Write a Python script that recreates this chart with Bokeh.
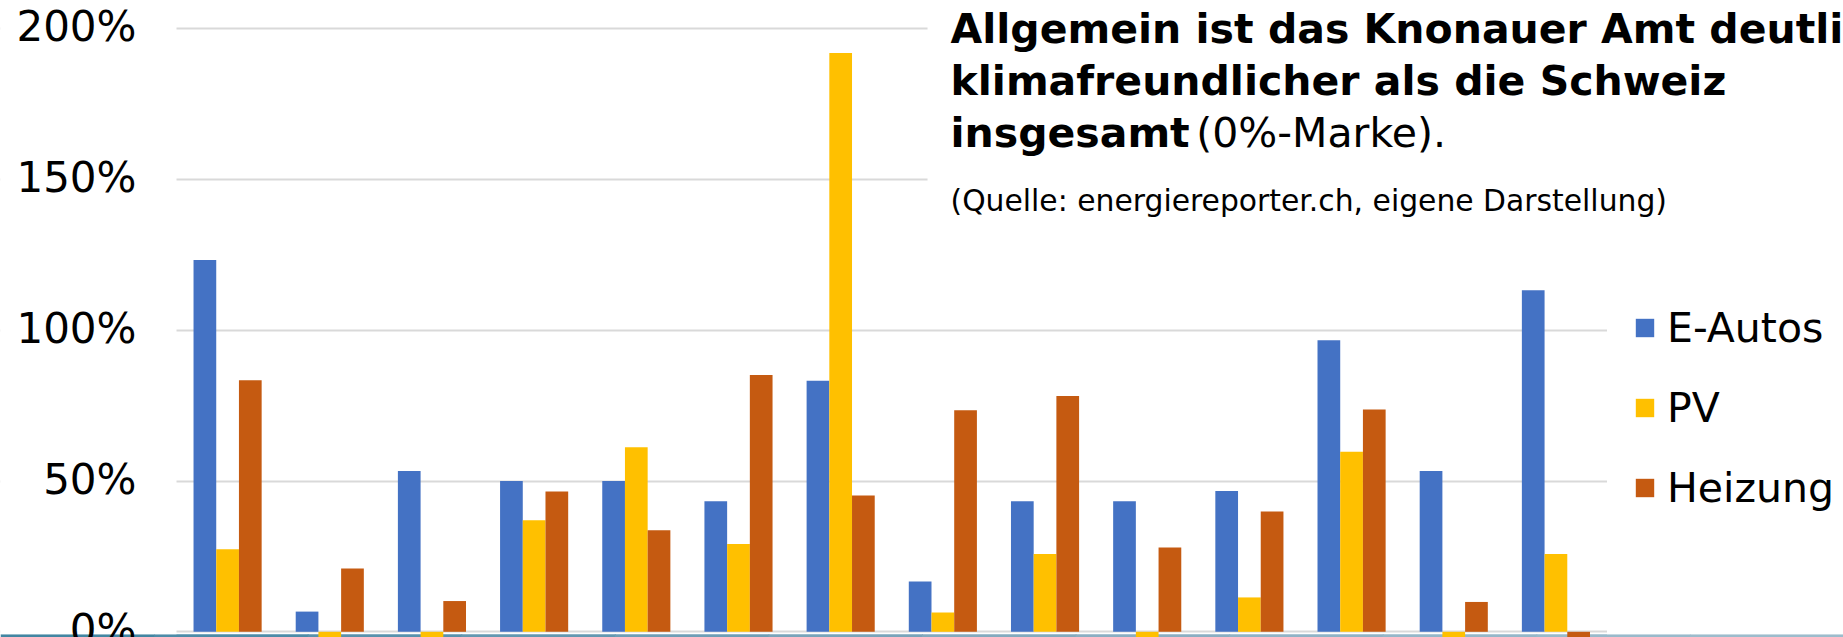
import numpy as np
from bokeh.plotting import figure
from bokeh.models import (ColumnDataSource, Range1d, FixedTicker, Grid,
                          BoxAnnotation, Label, Legend, LegendItem)
from bokeh.transform import dodge
from bokeh.embed import file_html
from bokeh.resources import INLINE

# ---- data (percent difference vs. Switzerland) ----
categories = ["1", "2", "3", "4", "5", "6", "7", "8", "9", "10", "11", "12", "13", "14"]
e_autos = [123.3, 6.7, 53.3, 50.0, 50.0, 43.3, 83.3, 16.7, 43.3, 43.3, 46.7, 96.7, 53.3, 113.3]
pv      = [27.4, -3.0, -3.0, 37.0, 61.2, 29.1, 192.0, 6.4, 25.8, -3.0, 11.4, 59.7, -3.0, 25.8]
heizung = [83.4, 21.0, 10.2, 46.5, 33.7, 85.2, 45.2, 73.5, 78.2, 28.0, 39.9, 73.7, 9.9, -3.0]
series_names = ["E-Autos", "PV", "Heizung"]
series_colors = ["#4472C4", "#FFC000", "#C55A11"]
y_ticks = [0, 50, 100, 150, 200]
tick_labels = ["0%", "50%", "100%", "150%", "200%"]

FONT = "DejaVu Sans"
W, H = 1843, 637
PLOT_LEFT = 176          # px where the category area begins
band = 102.18            # px per category
px_per_pct = 3.015
zero_px = 631.3

x_start = -0.5 - PLOT_LEFT / band
x_end = -0.5 + (W - PLOT_LEFT) / band
y_end = zero_px / px_per_pct
y_start = -(H - zero_px) / px_per_pct

p = figure(width=W, height=H, output_backend="svg", toolbar_location=None,
           x_range=Range1d(x_start, x_end), y_range=Range1d(y_start, y_end),
           x_axis_location=None, y_axis_location=None,
           min_border_left=0, min_border_right=0, min_border_top=0, min_border_bottom=0)
p.outline_line_color = None
p.background_fill_color = "white"
p.border_fill_color = "white"
p.grid.visible = False

grid = Grid(dimension=1, ticker=FixedTicker(ticks=y_ticks),
            grid_line_color="#d9d9d9", grid_line_width=2)
p.add_layout(grid)

# bottom page strip (cut-off page element below the chart)
strip_top = -(633.7 - zero_px) / px_per_pct
strip_cols = ["#4286a2", "#4d8ca8", "#5892ad", "#6398b1", "#6e9eb6", "#79a4ba",
              "#83aabe", "#8aaec2", "#90b3c6", "#95b7c9", "#99bacb", "#9cbccc"]
n = len(strip_cols)
edges = np.linspace(x_start, x_end, n + 1)
for i, c in enumerate(strip_cols):
    p.add_layout(BoxAnnotation(left=edges[i], right=edges[i + 1] + 0.01, top=strip_top,
                               fill_color=c, fill_alpha=1, line_color=None, level="underlay"))

src = ColumnDataSource(dict(cat=categories, x=np.arange(len(categories)),
                            e=e_autos, pv=pv, h=heizung))
bw = 1 / 4.5
renderers = []
for col, off, color in zip(["e", "pv", "h"], [-bw, 0, bw], series_colors):
    r = p.vbar(x=dodge("x", off, range=p.x_range), top=col, bottom=0, width=bw,
               source=src, fill_color=color, line_color=None)
    renderers.append(r)

# white masks: gridlines only span the category area; title box covers them
p.add_layout(BoxAnnotation(right=-0.5, bottom=strip_top, fill_color="white", fill_alpha=1,
                           line_color=None, level="annotation"))
p.add_layout(BoxAnnotation(left=len(categories) - 0.5, bottom=strip_top, fill_color="white",
                           fill_alpha=1, line_color=None, level="annotation"))
p.add_layout(BoxAnnotation(left=6.85, bottom=125, fill_color="white", fill_alpha=1,
                           line_color=None, level="annotation"))

# y tick labels
label_x = -0.5 - 40 / band
for t, s in zip(y_ticks, tick_labels):
    p.add_layout(Label(x=label_x, y=t, y_offset=2, text=s, text_align="right",
                       text_baseline="middle",
                       text_font=FONT, text_font_size="42px", text_color="#000000"))

tx = 7.075
p.add_layout(Label(x=tx, y=199.84, text="Allgemein ist das Knonauer Amt deutlich",
                   text_font=FONT, text_font_style="bold", text_font_size="41px",
                   text_baseline="alphabetic", text_color="#000000"))
p.add_layout(Label(x=tx, y=182.64, text="klimafreundlicher als die Schweiz",
                   text_font=FONT, text_font_style="bold", text_font_size="41px",
                   text_baseline="alphabetic", text_color="#000000"))
p.add_layout(Label(x=tx, y=165.44, text="insgesamt",
                   text_font=FONT, text_font_style="bold", text_font_size="41px",
                   text_baseline="alphabetic", text_color="#000000"))
p.add_layout(Label(x=9.48, y=165.44, text="(0%-Marke).",
                   text_font=FONT, text_font_size="41px",
                   text_baseline="alphabetic", text_color="#000000"))
p.add_layout(Label(x=tx, y=142.95, text="(Quelle: energiereporter.ch, eigene Darstellung)",
                   text_font=FONT, text_font_size="29.8px",
                   text_baseline="alphabetic", text_color="#000000"))

legend = Legend(items=[LegendItem(label=nm, renderers=[r]) for nm, r in zip(series_names, renderers)],
                location=(1633, 124.5), orientation="vertical",
                glyph_width=23, glyph_height=23, label_height=50,
                label_text_font=FONT, label_text_font_size="41px", label_text_color="#000000",
                label_standoff=11, spacing=30, padding=0, margin=0,
                border_line_color=None, background_fill_alpha=0)
p.add_layout(legend)

open("out.html", "w").write(file_html(p, INLINE))
